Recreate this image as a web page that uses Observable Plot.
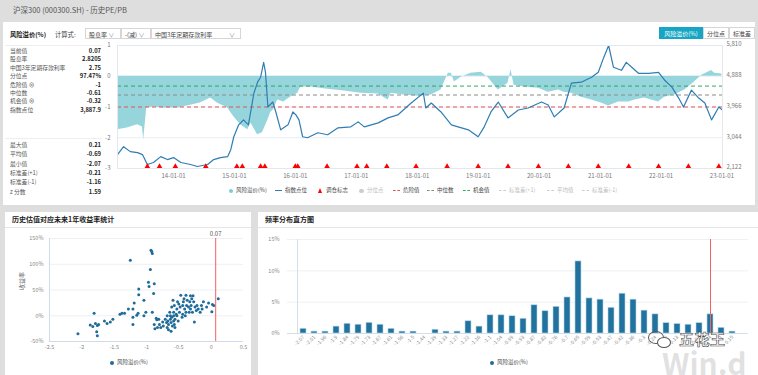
<!DOCTYPE html>
<html><head><meta charset="utf-8">
<script src="https://cdn.jsdelivr.net/npm/d3@7"></script>
<script src="https://cdn.jsdelivr.net/npm/@observablehq/plot@0.6"></script>
<style>
body{margin:0;width:758px;height:375px;background:#dedede;position:relative;overflow:hidden;font-family:"Noto Sans CJK SC","Noto Sans",sans-serif;color:#444;}
.a{position:absolute;white-space:nowrap;}
.panel{position:absolute;background:#fff;}
.ttl{position:absolute;left:0;right:0;top:0;height:15px;border-bottom:1px solid #e6e6e6;font-size:7px;font-weight:bold;color:#222;line-height:15px;padding-left:7px;}
.box{position:absolute;top:28px;height:11px;border:1px solid #d6d6d6;font-size:6px;line-height:11px;color:#444;padding-left:3px;box-sizing:border-box;}
.btn{position:absolute;top:27px;height:12px;border:1px solid #d6d6d6;font-size:6px;line-height:11px;text-align:center;box-sizing:border-box;color:#444;background:#fff;}
.st{position:absolute;left:10px;width:91px;font-size:5.8px;line-height:8px;color:#555;}
.st b{position:absolute;right:0;color:#222;font-weight:600;}
.lg{position:absolute;font-size:5.5px;color:#444;line-height:7px;}
.lg.off{color:#bbb;}
.dash{position:absolute;width:7px;border-top:1px dashed;}
svg{position:absolute;overflow:visible;}
</style></head><body>
<div class="a" style="left:13px;top:4px;font-size:7.5px;color:#555;">沪深300 (000300.SH) - 历史PE/PB</div>
<div class="panel" style="left:3px;top:22px;width:752px;height:183px;"></div>
<div class="a" style="left:10px;top:30px;font-size:6.3px;font-weight:bold;color:#222;">风险溢价(%)</div>
<div class="a" style="left:55px;top:30px;font-size:6.3px;color:#444;">计算式:</div>
<div class="box" style="left:85px;width:36px;">股息率 <span style="color:#999">∨</span></div>
<div class="box" style="left:121px;width:30px;">-(减) <span style="color:#999">∨</span></div>
<div class="box" style="left:151px;width:90px;">中国3年定期存款利率<span style="position:absolute;right:5px;color:#999">∨</span></div>
<div class="btn" style="left:659px;width:44px;background:#16a5c4;color:#fff;border-color:#16a5c4;">风险溢价(%)</div>
<div class="btn" style="left:703px;width:26px;">分位点</div>
<div class="btn" style="left:729px;width:26px;">标准差</div>
<div class="a" style="left:5px;top:45px;width:97px;border-top:1px solid #eee;"></div>
<div class="a" style="left:5px;top:138px;width:97px;border-top:1px solid #eee;"></div>
<div id="stats"></div>
<div id="main"></div>
<div id="legend"></div>

<div class="panel" style="left:5px;top:212px;width:246px;height:170px;"><div class="ttl">历史估值对应未来1年收益率统计</div></div>
<div class="panel" style="left:258px;top:212px;width:500px;height:170px;"><div class="ttl">频率分布直方图</div></div>
<div id="scatter"></div>
<div id="hist"></div>
<div class="lg" style="left:110px;top:359px;"><span style="display:inline-block;width:4px;height:4px;border-radius:50%;background:#1f6c9b;margin-right:3px;vertical-align:middle;"></span>风险溢价(%)</div>
<div class="lg" style="left:490px;top:359px;"><span style="display:inline-block;width:4px;height:4px;border-radius:50%;background:#1f6c9b;margin-right:3px;vertical-align:middle;"></span>风险溢价(%)</div>
<div class="a" style="left:662px;top:347px;font-size:30px;line-height:30px;font-weight:bold;color:rgba(170,170,170,0.35);">Win.d</div>
<div class="a" style="left:648px;top:331px;width:14px;height:11px;border:1px solid #555;border-radius:50%;"></div>
<div class="a" style="left:657px;top:337px;width:12px;height:9px;border:1px solid #555;border-radius:50%;background:#fff;"></div>
<div class="a" style="left:679px;top:330px;font-size:15px;line-height:17px;color:#fff;-webkit-text-stroke:0.6px #444;font-weight:bold;letter-spacing:0.5px;">五花王</div>

<script>
// ---------- main chart data ----------
const rpYear = [2013.08,2013.24,2013.41,2013.49,2013.51,2013.56,2013.67,2013.84,2014.07,2014.28,2014.44,2014.61,2014.72,2014.89,2014.99,2015.10,2015.22,2015.27,2015.38,2015.46,2015.55,2015.60,2015.64,2015.71,2015.81,2015.92,2016.04,2016.09,2016.25,2016.53,2016.80,2017.08,2017.36,2017.52,2017.57,2017.78,2018.01,2018.23,2018.39,2018.51,2018.56,2018.61,2018.72,2018.88,2019.05,2019.16,2019.33,2019.49,2019.54,2019.59,2019.76,2019.99,2020.15,2020.32,2020.41,2020.53,2020.69,2020.86,2021.02,2021.14,2021.30,2021.47,2021.57,2021.73,2021.96,2022.06,2022.22,2022.39,2022.55,2022.67,2022.83,2022.88,2023.00];
const rpValue = [-1.74,-1.68,-1.58,-1.65,-2.07,-1.03,-1.00,-1.03,-1.03,-0.94,-0.87,-0.71,-0.87,-1.03,-1.32,-1.58,-1.74,-1.52,-1.90,-1.84,-1.42,-1.16,-1.10,-0.77,-0.84,-0.68,-0.55,-0.35,-0.35,-0.42,-0.48,-0.55,-0.58,-0.77,-0.55,-0.61,-0.65,-0.61,-0.45,0.10,0.10,-0.19,-0.03,0.10,0.13,-0.03,-0.45,-0.23,0.21,-0.29,-0.35,-0.39,-0.52,-0.45,-0.52,-0.55,-0.68,-0.77,-0.87,-0.97,-0.84,-0.84,-0.77,-0.71,-0.84,-0.68,-0.61,-0.45,-0.19,0.03,0.19,0.10,0.07];
const idxYear = [2013.08,2013.18,2013.29,2013.41,2013.49,2013.57,2013.67,2013.79,2013.90,2014.00,2014.12,2014.28,2014.39,2014.56,2014.66,2014.77,2014.89,2014.94,2014.99,2015.07,2015.15,2015.23,2015.32,2015.38,2015.43,2015.48,2015.51,2015.55,2015.63,2015.68,2015.76,2015.88,2015.96,2016.01,2016.06,2016.12,2016.20,2016.37,2016.53,2016.70,2016.91,2017.03,2017.13,2017.36,2017.52,2017.68,2017.90,2018.10,2018.14,2018.23,2018.39,2018.56,2018.67,2018.84,2019.00,2019.10,2019.21,2019.33,2019.49,2019.66,2019.82,2020.04,2020.15,2020.25,2020.41,2020.53,2020.69,2020.86,2020.97,2021.06,2021.14,2021.22,2021.35,2021.43,2021.52,2021.63,2021.80,2021.96,2022.06,2022.18,2022.29,2022.37,2022.50,2022.62,2022.72,2022.83,2022.95,2023.00];
const idxValue = [2539,2776,2628,2598,2539,2241,2301,2479,2390,2449,2301,2241,2182,2241,2390,2449,2479,2687,3074,3431,3580,3431,4382,4710,4858,5304,5007,3966,4115,3817,3282,3431,3817,3728,3580,3074,3044,3193,3133,3341,3371,3520,3371,3490,3639,3728,4085,4382,3936,4085,3817,3431,3371,3282,3074,3371,3817,4115,3639,3877,3936,4115,4026,3669,3936,4680,4710,4858,5007,5453,5810,5156,5066,5304,5156,4977,4977,5007,4769,4561,4234,3966,4472,4234,4085,3580,3966,3888];
const rebalanceYear = [2013.57,2013.77,2014.03,2014.53,2015.04,2015.13,2015.43,2015.50,2016.00,2016.04,2016.52,2017.01,2017.17,2017.50,2017.98,2018.49,2019.00,2019.49,2019.99,2020.48,2020.97,2021.47,2021.96,2022.45,2022.95];
const dangerValue = -1, medianValue = -0.61, opportunityValue = -0.32;
const leftTicks = [1, 0, -1, -2, -3];
const rightTickLabels = ["5,810", "4,888", "3,966", "3,044", "2,122"];
const xTickLabels = ["14-01-01","15-01-01","16-01-01","17-01-01","18-01-01","19-01-01","20-01-01","21-01-01","22-01-01","23-01-01"];
// stats
const statLabels1 = ["当前值","股息率","中国3年定期存款利率","分位点","危险值 ⊗","中位数","机会值 ⊗","指数点位"];
const statValues1 = ["0.07","2.8205","2.75","97.47%","-1","-0.61","-0.32","3,887.9"];
const statLabels2 = ["最大值","平均值","最小值","标准差(+1)","标准差(-1)","z 分数"];
const statValues2 = ["0.21","-0.69","-2.07","-0.21","-1.16","1.59"];
// scatter
const scatterX = [-2.06,-1.81,-1.87,-1.83,-1.79,-1.76,-1.77,-1.76,-1.74,-1.65,-1.61,-1.56,-1.52,-1.41,-1.38,-1.34,-1.28,-1.25,-1.21,-1.21,-1.21,-1.19,-1.15,-1.13,-1.12,-1.12,-1.04,-1.04,-1.01,-0.97,-0.96,-0.94,-0.93,-0.92,-0.91,-0.91,-0.89,-0.88,-0.88,-0.87,-0.85,-0.84,-0.83,-0.81,-0.80,-0.78,-0.75,-0.74,-0.71,-0.69,-0.68,-0.68,-0.67,-0.66,-0.66,-0.64,-0.63,-0.63,-0.62,-0.62,-0.61,-0.61,-0.60,-0.59,-0.58,-0.58,-0.58,-0.57,-0.57,-0.56,-0.56,-0.54,-0.53,-0.53,-0.52,-0.51,-0.50,-0.49,-0.48,-0.47,-0.45,-0.44,-0.44,-0.43,-0.42,-0.41,-0.40,-0.39,-0.39,-0.38,-0.37,-0.35,-0.34,-0.33,-0.32,-0.32,-0.31,-0.30,-0.29,-0.28,-0.27,-0.26,-0.25,-0.23,-0.22,-0.20,-0.17,-0.15,-0.14,-0.12,-0.07,-0.04,0.01,0.02,0.04,0.11];
const scatterY = [-35,5,-18,-21,-15,-19,-31,-39,-17,-10,-15,-12,-7,3,5,5,13,108,13,-3,-17,25,1,5,52,41,30,0,7,65,57,90,127,125,121,7,43,62,-17,-25,-5,-8,-23,-7,-17,-23,-12,-20,-7,-13,0,-23,-10,-17,-27,7,0,-7,-13,-30,17,-3,-20,30,7,0,-10,20,-17,-7,-23,3,13,0,27,-10,23,7,17,40,-3,3,20,27,33,13,0,7,40,20,30,17,7,27,39,13,20,33,7,39,27,-12,17,10,20,13,7,20,13,27,17,25,8,22,20,33];
const scatterYTicks = [-50, 0, 50, 100, 150];
const scatterXTicks = [-2.5, -2, -1.5, -1, -0.5, 0, 0.5];
const currentValue = 0.07;
// histogram
const binLabels = ["-2.07","-2.01","-1.96","-1.9","-1.84","-1.79","-1.73","-1.67","-1.61","-1.56","-1.5","-1.44","-1.39","-1.33","-1.27","-1.22","-1.16","-1.1","-1.04","-0.99","-0.93","-0.87","-0.82","-0.76","-0.7","-0.65","-0.59","-0.53","-0.47","-0.42","-0.36","-0.3","-0.24","-0.19","-0.13","-0.07","-0.02","0.04","0.1","0.15"];
const binPct = [0.75,0.3,0.3,1.1,1.55,1.4,1.7,1.4,0.75,0.3,0.3,0,0.6,0.3,0.3,1.95,1.1,2.9,2.9,2.75,2.35,4.5,3.55,4.25,5.75,11.5,5.6,5.4,4.1,6.35,5.4,3.65,3.05,1.65,1.5,1.4,1.65,3.05,0.9,0.3];
const histYTicks = [0, 5, 10, 15];
const currentBin = "0.04";

const FONT = '"Noto Sans CJK SC","Noto Sans",sans-serif';
function yd(y){const yr=Math.floor(y);const s=Date.UTC(yr,0,1),e=Date.UTC(yr+1,0,1);return new Date(s+(y-yr)*(e-s));}
function pd(s){return new Date(Date.UTC(2000+ +s.slice(0,2), +s.slice(3,5)-1, +s.slice(6,8)));}

// stats
let sh="";
statLabels1.forEach((l,i)=>{sh+=`<div class="st" style="top:${47+i*8.4}px">${l}<b>${statValues1[i]}</b></div>`;});
statLabels2.forEach((l,i)=>{sh+=`<div class="st" style="top:${141+i*9.3}px">${l}<b>${statValues2[i]}</b></div>`;});
document.getElementById("stats").innerHTML=sh;

// main chart
const rp = rpYear.map((y,i)=>({date:yd(y), v:rpValue[i]}));
const idx = idxYear.map((y,i)=>({date:yd(y), v:idxValue[i]}));
const idxTop = +rightTickLabels[0].replace(",",""), idxBot = +rightTickLabels[4].replace(",","");
const idxToY = v => leftTicks[4] + (v-idxBot)/(idxTop-idxBot)*(leftTicks[0]-leftTicks[4]);
const main = Plot.plot({
  width:758, height:146, marginTop:7, marginBottom:16, marginLeft:117, marginRight:36,
  style:{fontSize:"6px", fontFamily:FONT, color:"#777", background:"transparent"},
  x:{type:"utc", domain:[yd(2013.08), yd(2023.01)]},
  y:{domain:[-3,1]},
  marks:[
    Plot.gridY(leftTicks, {stroke:"#e9eef3", strokeOpacity:1}),
    Plot.areaY(rp, {x:"date", y1:0, y2:"v", fill:"#97d5dd", curve:"linear"}),
    Plot.ruleY([opportunityValue], {stroke:"#2fa866", strokeDasharray:"4,3", strokeWidth:1}),
    Plot.ruleY([medianValue], {stroke:"#8a8a8a", strokeDasharray:"4,3", strokeWidth:1}),
    Plot.ruleY([dangerValue], {stroke:"#e05555", strokeDasharray:"4,3", strokeWidth:1}),
    Plot.line(idx, {x:"date", y:d=>idxToY(d.v), stroke:"#2f7db3", strokeWidth:1.2}),
    Plot.dot(rebalanceYear, {x:d=>yd(d), y:-3, symbol:"triangle", fill:"#ff0000", r:2.4, dy:-1.5}),
    Plot.frame({stroke:"#e3e8ee"}),
    Plot.axisY(leftTicks, {anchor:"left", tickSize:0, tickPadding:7, tickFormat:d=>String(d), label:null}),
    Plot.axisY(leftTicks, {anchor:"right", tickSize:0, tickPadding:4, dy:-1, tickFormat:(d,i)=>rightTickLabels[i], label:null}),
    Plot.axisX(xTickLabels.map(pd), {tickSize:0, tickPadding:5, tickFormat:(d,i)=>xTickLabels[i], label:null})
  ]
});
main.style.left="0px"; main.style.top="38px";
document.getElementById("main").appendChild(main);

// main legend
const L = [
  {x:229, t:"风险溢价(%)", sym:'<span style="position:absolute;left:0;top:1.5px;width:4px;height:4px;border-radius:50%;background:#7ccdd8"></span>', tx:7},
  {x:275, t:"指数点位", sym:'<span style="position:absolute;left:0;top:3px;width:7px;border-top:1px solid #2f7db3"></span>', tx:10},
  {x:318, t:"调仓标志", sym:'<span style="position:absolute;left:0;top:0.5px;width:0;height:0;border-left:2.5px solid transparent;border-right:2.5px solid transparent;border-bottom:5px solid #f00"></span>', tx:8},
  {x:359, t:"分位点", off:true, sym:'<span style="position:absolute;left:0;top:1.5px;width:4.5px;height:4.5px;border-radius:50%;background:#ccc"></span>', tx:8},
  {x:393, t:"危险值", sym:'<span class="dash" style="left:0;top:3px;border-color:#e05555"></span>', tx:10},
  {x:427, t:"中位数", sym:'<span class="dash" style="left:0;top:3px;border-color:#888"></span>', tx:10},
  {x:463, t:"机会值", sym:'<span class="dash" style="left:0;top:3px;border-color:#2fa866"></span>', tx:10},
  {x:499, t:"标准差(+1)", off:true, sym:'<span class="dash" style="left:0;top:3px;border-color:#ccc"></span>', tx:10},
  {x:547, t:"平均值", off:true, sym:'<span class="dash" style="left:0;top:3px;border-color:#ccc"></span>', tx:10},
  {x:582, t:"标准差(-1)", off:true, sym:'<span class="dash" style="left:0;top:3px;border-color:#ccc"></span>', tx:10}
];
let lh="";
L.forEach(o=>{lh+=`<div class="lg${o.off?' off':''}" style="left:${o.x}px;top:187px;width:60px;height:7px;">${o.sym}<span style="position:absolute;left:${o.tx}px;top:0">${o.t}</span></div>`;});
document.getElementById("legend").innerHTML=lh;

// scatter
const pts = scatterX.map((x,i)=>({x, y:scatterY[i]}));
const sc = Plot.plot({
  width:245, height:147, marginTop:10, marginBottom:34, marginLeft:44, marginRight:7,
  style:{fontSize:"5.5px", fontFamily:FONT, color:"#888", background:"transparent"},
  x:{domain:[-2.5,0.5]},
  y:{domain:[-50,150]},
  marks:[
    Plot.gridY(scatterYTicks, {stroke:"#eef0f3", strokeOpacity:1}),
    Plot.ruleX([-2.5], {stroke:"#cfdbe8"}),
    Plot.ruleY([-50], {stroke:"#cfdbe8"}),
    Plot.dot(pts, {x:"x", y:"y", r:1.5, fill:"#1f6c9b"}),
    Plot.ruleX([currentValue], {stroke:"#f26060", strokeWidth:1}),
    Plot.text([currentValue], {x:d=>d, y:150, text:d=>String(d), dy:-4, fill:"#555", fontSize:6}),
    Plot.text(["收益率"], {frameAnchor:"left", dx:-27, rotate:-90, fill:"#666", fontSize:6}),
    Plot.axisY(scatterYTicks, {tickSize:0, tickPadding:6, tickFormat:d=>d+"%", label:null}),
    Plot.axisX(scatterXTicks, {tickSize:0, tickPadding:4, tickFormat:d=>String(d), label:null})
  ]
});
sc.style.left="5px"; sc.style.top="228px";
document.getElementById("scatter").appendChild(sc);

// histogram
const bins = binLabels.map((l,i)=>({l, p:binPct[i]}));
const hs = Plot.plot({
  width:500, height:147, marginTop:11, marginBottom:42, marginLeft:29, marginRight:10,
  style:{fontSize:"5px", fontFamily:FONT, color:"#888", background:"transparent"},
  x:{type:"band", domain:binLabels, paddingInner:0.45, paddingOuter:0.2},
  y:{domain:[0,15]},
  marks:[
    Plot.gridY(histYTicks, {stroke:"#eef0f3", strokeOpacity:1}),
    Plot.ruleX([binLabels[0]], {stroke:"#d3e0ec", dx:-6}),
    Plot.ruleY([0], {stroke:"#d3e0ec"}),
    Plot.barY(bins, {x:"l", y:"p", fill:"#21729f", stroke:"#b7d5e6", strokeWidth:0.6}),
    Plot.ruleX([currentBin], {stroke:"#f26060", strokeWidth:1}),
    Plot.axisY(histYTicks, {tickSize:0, tickPadding:8, tickFormat:d=>d+"%", label:null, fontSize:5.5}),
    Plot.axisX({tickSize:0, tickPadding:3, tickRotate:-45, label:null})
  ]
});
hs.style.left="258px"; hs.style.top="228px";
document.getElementById("hist").appendChild(hs);
</script>
</body></html>
